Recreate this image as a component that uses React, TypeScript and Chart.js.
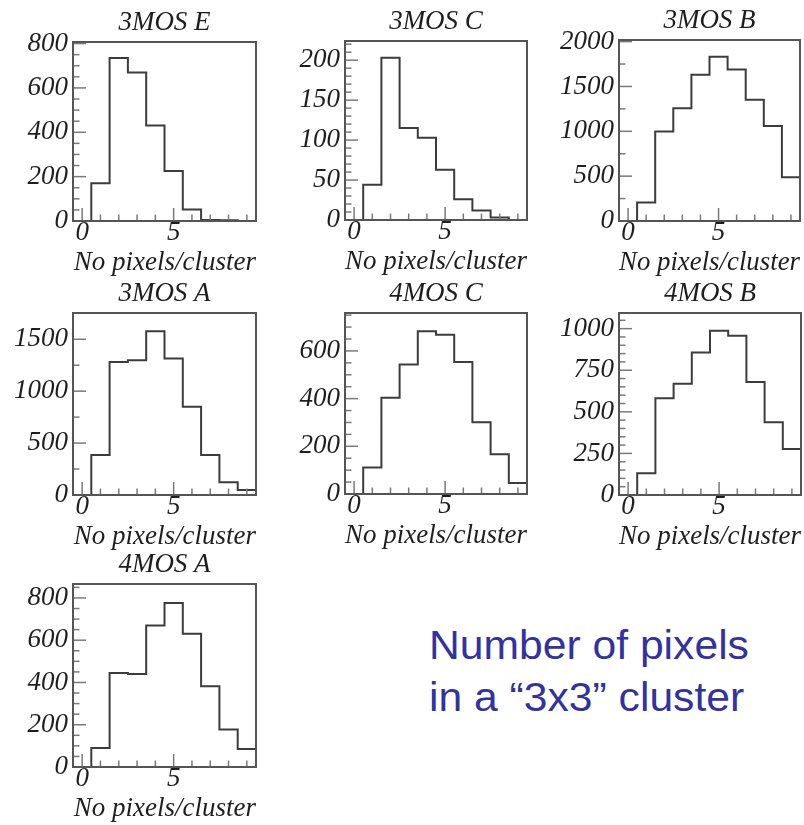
import React, { useEffect, useRef } from "react";
import { Chart, registerables } from "chart.js";

Chart.register(...registerables);

// ---------- data ----------
const BIN_CENTERS = [0, 1, 2, 3, 4, 5, 6, 7, 8, 9];
const BIN_WIDTH = 1;
const X_TICKS = [0, 5];
const X_TITLE = "No pixels/cluster";

const TITLES = ["3MOS E", "3MOS C", "3MOS B", "3MOS A", "4MOS C", "4MOS B", "4MOS A"];

const COUNTS_3MOS_E = [0, 170, 735, 670, 430, 225, 52, 4, 3, 0];
const COUNTS_3MOS_C = [0, 44, 203, 115, 103, 63, 26, 12, 3, 0];
const COUNTS_3MOS_B = [0, 207, 997, 1256, 1631, 1831, 1688, 1353, 1060, 489];
const COUNTS_3MOS_A = [0, 385, 1282, 1298, 1577, 1314, 849, 385, 122, 48];
const COUNTS_4MOS_C = [0, 111, 404, 543, 682, 668, 554, 301, 167, 46];
const COUNTS_4MOS_B = [0, 131, 582, 669, 857, 988, 958, 679, 438, 277];
const COUNTS_4MOS_A = [0, 90, 445, 440, 670, 776, 630, 382, 177, 85];

const Y_TICKS_3MOS_E = [0, 200, 400, 600, 800];
const Y_TICKS_3MOS_C = [0, 50, 100, 150, 200];
const Y_TICKS_3MOS_B = [0, 500, 1000, 1500, 2000];
const Y_TICKS_3MOS_A = [0, 500, 1000, 1500];
const Y_TICKS_4MOS_C = [0, 200, 400, 600];
const Y_TICKS_4MOS_B = [0, 250, 500, 750, 1000];
const Y_TICKS_4MOS_A = [0, 200, 400, 600, 800];

const Y_MAX = [807, 224, 2018, 1753, 759, 1094, 866];
const Y_MINOR_STEP = [50, 10, 250, 250, 50, 50, 50];

const NOTE_LINES = ["Number of pixels", "in a \u201c3x3\u201d cluster"];

// ---------- layout / style ----------
const FRAMES = [
  { left: 73, top: 42, w: 183, h: 179 },
  { left: 345, top: 41, w: 182, h: 179 },
  { left: 619, top: 40, w: 181, h: 181 },
  { left: 73, top: 313, w: 183, h: 182 },
  { left: 345, top: 313, w: 182, h: 181 },
  { left: 619, top: 313, w: 182, h: 182 },
  { left: 73, top: 584, w: 183, h: 183 },
];
const Y_AXIS_W = 72;
const X_AXIS_H = 60;
const TITLE_H = 40;
const PAD_R = 4;
const SERIF = "'Liberation Serif', 'Times New Roman', serif";
const FONT_SIZE = 27;
const TEXT_COLOR = "#1e1e1e";
const LINE_COLOR = "#3c3c3c";
const FRAME_COLOR = "#555555";
const TICK_COLOR = "#7a7a7a";
const MAJOR_LEN = 13;
const MINOR_LEN = 6.5;

const COUNTS = [COUNTS_3MOS_E, COUNTS_3MOS_C, COUNTS_3MOS_B, COUNTS_3MOS_A, COUNTS_4MOS_C, COUNTS_4MOS_B, COUNTS_4MOS_A];
const Y_TICKS = [Y_TICKS_3MOS_E, Y_TICKS_3MOS_C, Y_TICKS_3MOS_B, Y_TICKS_3MOS_A, Y_TICKS_4MOS_C, Y_TICKS_4MOS_B, Y_TICKS_4MOS_A];

const framePlugin = {
  id: "frameTicks",
  afterDraw(chart: any, _args: any, opts: any) {
    const { ctx, chartArea: a, scales } = chart;
    ctx.save();
    ctx.strokeStyle = TICK_COLOR;
    ctx.lineWidth = 1.5;
    const seg = (x1: number, y1: number, x2: number, y2: number) => {
      ctx.beginPath();
      ctx.moveTo(x1, y1);
      ctx.lineTo(x2, y2);
      ctx.stroke();
    };
    const xMin = scales.x.min, xMax = scales.x.max;
    for (let v = Math.ceil(xMin); v <= xMax; v += 1) {
      const px = scales.x.getPixelForValue(v);
      const len = opts.xMajor.includes(v) ? MAJOR_LEN : MINOR_LEN;
      seg(px, a.bottom, px, a.bottom - len);
    }
    const yMax = scales.y.max;
    for (let v = 0; v <= yMax + 1e-9; v += opts.yMinorStep) {
      const py = scales.y.getPixelForValue(v);
      const len = opts.yMajor.includes(v) ? MAJOR_LEN : MINOR_LEN;
      seg(a.left, py, a.left + len, py);
    }
    ctx.strokeStyle = FRAME_COLOR;
    ctx.lineWidth = 2;
    ctx.strokeRect(a.left, a.top, a.right - a.left, a.bottom - a.top);
    ctx.restore();
  },
};

function Panel({ idx }: { idx: number }) {
  const ref = useRef<HTMLCanvasElement>(null);
  const f = FRAMES[idx];
  const cw = Y_AXIS_W + f.w + PAD_R;
  const ch = TITLE_H + f.h + X_AXIS_H;

  useEffect(() => {
    const counts = COUNTS[idx];
    const last = BIN_CENTERS.length - 1;
    const pts = counts.map((c, i) => ({ x: BIN_CENTERS[i] - BIN_WIDTH / 2, y: c }));
    pts.push({ x: BIN_CENTERS[last] + BIN_WIDTH / 2, y: counts[last] });
    const font = { family: SERIF, size: FONT_SIZE, style: "italic" as const, lineHeight: 1.2 };

    const chart = new Chart(ref.current!, {
      type: "line",
      data: {
        datasets: [
          {
            data: pts,
            stepped: "before",
            borderColor: LINE_COLOR,
            borderWidth: 2,
            pointRadius: 0,
            fill: false,
          },
        ],
      },
      options: {
        animation: false,
        responsive: false,
        maintainAspectRatio: false,
        layout: { padding: { left: 0, right: PAD_R, top: 0, bottom: 0 } },
        plugins: {
          legend: { display: false },
          tooltip: { enabled: false },
          title: {
            display: true,
            text: TITLES[idx],
            fullSize: false,
            color: TEXT_COLOR,
            font: { ...font, weight: "normal" },
            padding: { top: 4.7, bottom: 2.9 },
          },
          frameTicks: { xMajor: X_TICKS, yMajor: Y_TICKS[idx], yMinorStep: Y_MINOR_STEP[idx] },
        } as any,
        scales: {
          x: {
            type: "linear",
            min: BIN_CENTERS[0] - BIN_WIDTH / 2,
            max: BIN_CENTERS[last] + BIN_WIDTH / 2,
            afterBuildTicks: (s: any) => {
              s.ticks = X_TICKS.map((v) => ({ value: v }));
            },
            afterFit: (s: any) => {
              s.height = X_AXIS_H;
            },
            grid: { display: false, drawTicks: false },
            border: { display: false },
            ticks: {
              color: TEXT_COLOR,
              font,
              padding: -3.8,
              maxRotation: 0,
              autoSkip: false,
              callback: (v: any) => String(v),
            },
            title: {
              display: true,
              text: X_TITLE,
              align: "end",
              color: TEXT_COLOR,
              font,
              padding: { top: 0, bottom: 1.4 },
            },
          },
          y: {
            type: "linear",
            min: 0,
            max: Y_MAX[idx],
            afterBuildTicks: (s: any) => {
              s.ticks = Y_TICKS[idx].map((v) => ({ value: v }));
            },
            afterFit: (s: any) => {
              s.width = Y_AXIS_W;
            },
            grid: { display: false, drawTicks: false },
            border: { display: false },
            ticks: {
              color: TEXT_COLOR,
              font,
              padding: 5,
              autoSkip: false,
              callback: (v: any) => String(v),
            },
          },
        },
      } as any,
      plugins: [framePlugin],
    });
    return () => chart.destroy();
  }, [idx]);

  return (
    <canvas
      ref={ref}
      width={cw}
      height={ch}
      style={{
        position: "absolute",
        left: f.left - Y_AXIS_W,
        top: f.top - TITLE_H,
        width: cw,
        height: ch,
      }}
    />
  );
}

export default function App() {
  return (
    <div
      style={{
        position: "absolute",
        left: 0,
        top: 0,
        width: 804,
        height: 825,
        overflow: "hidden",
        background: "#ffffff",
      }}
    >
      {TITLES.map((_, i) => (
        <Panel key={i} idx={i} />
      ))}
      <div
        style={{
          position: "absolute",
          left: 429,
          top: 619,
          fontFamily: "'Liberation Sans', Arial, sans-serif",
          fontSize: 41,
          lineHeight: "52px",
          color: "#333399",
          whiteSpace: "pre",
          transform: "scaleX(1.04)",
          transformOrigin: "left top",
        }}
      >
        {NOTE_LINES.map((l, i) => (
          <div key={i}>{l}</div>
        ))}
      </div>
    </div>
  );
}
